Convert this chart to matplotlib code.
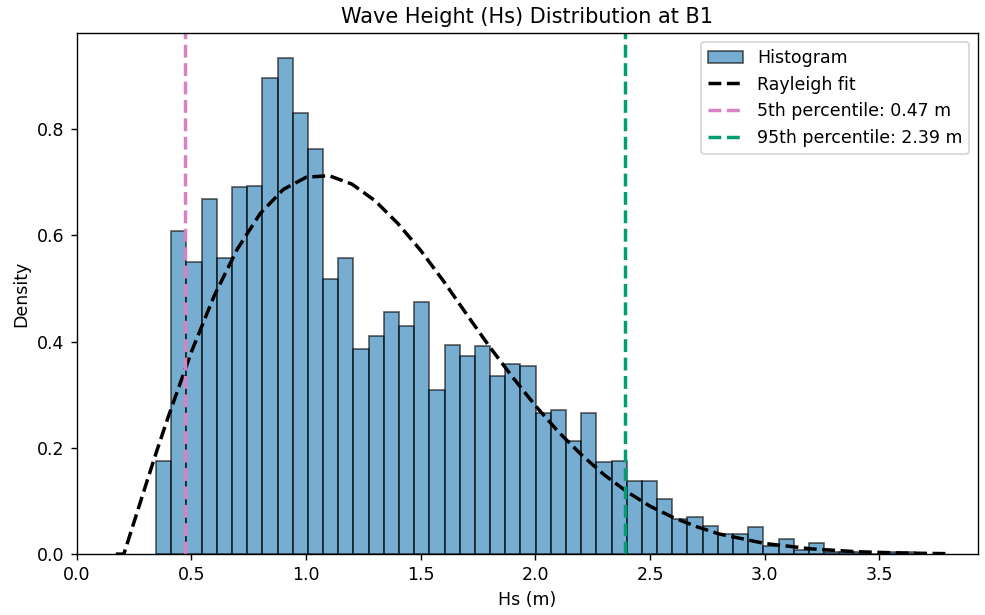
import numpy as np
import matplotlib
matplotlib.use("Agg")
import matplotlib.pyplot as plt

#%% data
hs_min = 0.3455
hs_max = 3.6555
density = [0.175, 0.607, 0.550, 0.668, 0.558, 0.690, 0.692, 0.895, 0.933, 0.830,
           0.762, 0.518, 0.557, 0.386, 0.410, 0.455, 0.430, 0.474, 0.308, 0.393,
           0.372, 0.391, 0.335, 0.358, 0.353, 0.266, 0.272, 0.212, 0.265, 0.173,
           0.176, 0.137, 0.137, 0.104, 0.066, 0.070, 0.053, 0.038, 0.037, 0.051,
           0.016, 0.028, 0.008, 0.021, 0.004, 0.004, 0.004, 0.0, 0.004, 0.004]

fit_x = [0.17, 0.205, 0.25, 0.3, 0.35, 0.4, 0.5, 0.6, 0.7, 0.8, 0.9, 1.0, 1.1, 1.2,
         1.3, 1.4, 1.5, 1.6, 1.7, 1.8, 1.9, 2.0, 2.1, 2.2, 2.3, 2.4, 2.5, 2.6,
         2.7, 2.8, 3.0, 3.2, 3.4, 3.6, 3.81]
fit_y = [0.0, 0.0, 0.061, 0.129, 0.196, 0.260, 0.381, 0.487, 0.574, 0.641, 0.686,
         0.709, 0.712, 0.696, 0.665, 0.622, 0.571, 0.513, 0.451, 0.390, 0.333,
         0.279, 0.230, 0.187, 0.149, 0.117, 0.090, 0.069, 0.052, 0.038, 0.020,
         0.010, 0.0045, 0.002, 0.0008]

p05 = 0.47
p95 = 2.39

#%% plot
edges = np.linspace(hs_min, hs_max, len(density) + 1)

fig = plt.figure(figsize=(7.88, 4.92), dpi=125)
ax = fig.add_axes([0.078, 0.099, 0.915, 0.847])

bars = ax.bar(edges[:-1], density, width=np.diff(edges), align='edge',
              color='#1f77b4', edgecolor='black', alpha=0.6, linewidth=1.0,
              label='Histogram')
fit_line, = ax.plot(fit_x, fit_y, 'k--', lw=2, label='Rayleigh fit')
l05 = ax.axvline(p05, color='#d783c3', ls='--', lw=2,
                 label=f'5th percentile: {p05:.2f} m')
l95 = ax.axvline(p95, color='#029e73', ls='--', lw=2,
                 label=f'95th percentile: {p95:.2f} m')

ax.set_xlim(0, 3.93)
ax.set_ylim(0, 0.98)
ax.set_title('Wave Height (Hs) Distribution at B1', fontsize=12)
ax.set_xlabel('Hs (m)')
ax.set_ylabel('Density')
ax.legend(handles=[bars, fit_line, l05, l95], loc='upper right')

fig.savefig('out.png', dpi=125)
